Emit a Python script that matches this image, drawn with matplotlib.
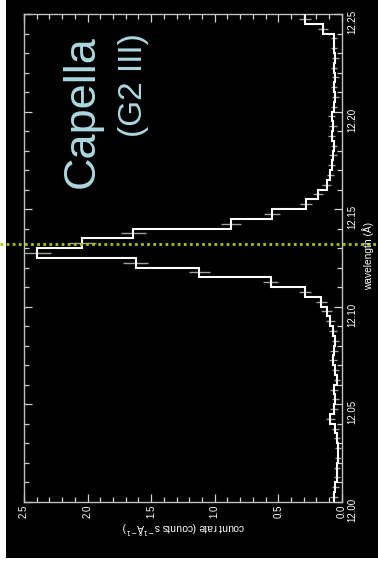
import matplotlib
matplotlib.use("Agg")
import matplotlib.pyplot as plt
import numpy as np
from matplotlib.patches import Rectangle
from matplotlib.ticker import MultipleLocator
import matplotlib.transforms as mtransforms

plt.rcParams['font.family'] = ['Liberation Sans', 'DejaVu Sans']

# Spectrum: count rate per 0.005 A bin, from 12.000 A upward
bin_start = 12.000
bin_width = 0.005
count_rate = [0.06, 0.05, 0.04, 0.04, 0.03, 0.03, 0.04, 0.05, 0.09, 0.06,
              0.05, 0.06, 0.04, 0.05, 0.07, 0.06, 0.05, 0.07, 0.09, 0.12,
              0.16, 0.29, 0.56, 1.12, 1.62, 2.40, 2.04, 1.64, 0.87, 0.55,
              0.28, 0.19, 0.12, 0.09, 0.08, 0.07, 0.06, 0.08, 0.07, 0.08,
              0.06, 0.05, 0.06, 0.05, 0.06, 0.05, 0.06, 0.06, 0.15, 0.29]
count_err = [0.030, 0.030, 0.025, 0.025, 0.020, 0.020, 0.025, 0.025, 0.035, 0.030,
             0.025, 0.030, 0.025, 0.025, 0.030, 0.030, 0.025, 0.030, 0.035, 0.040,
             0.045, 0.050, 0.060, 0.085, 0.098, 0.110, 0.105, 0.098, 0.079, 0.063,
             0.048, 0.040, 0.035, 0.030, 0.030, 0.030, 0.025, 0.030, 0.030, 0.030,
             0.025, 0.025, 0.025, 0.025, 0.025, 0.025, 0.025, 0.025, 0.040, 0.050]
line_wavelength = 12.132

count_ticks = [0.0, 0.5, 1.0, 1.5, 2.0, 2.5]
wave_ticks = [12.00, 12.05, 12.10, 12.15, 12.20, 12.25]

W, H = 378, 570
fig = plt.figure(figsize=(W / 100, H / 100), dpi=100)
fig.patch.set_facecolor('white')
fig.add_artist(Rectangle((6 / W, 12 / H), 1 - 6 / W, 1 - 12 / H,
                         transform=fig.transFigure, facecolor='black',
                         edgecolor='none', zorder=-10))

ax = fig.add_axes([24 / W, (H - 501.7) / H, 317.8 / W, 487.7 / H])
ax.set_facecolor('black')

edges = bin_start + bin_width * np.arange(len(count_rate) + 1)
centers = edges[:-1] + bin_width / 2
ax.errorbar(count_rate, centers, xerr=count_err, fmt='none',
            ecolor='#a0a0a0', elinewidth=1.0, capsize=0, zorder=2)
ax.stairs(count_rate, edges, orientation='horizontal', baseline=None,
          color='white', lw=1.5, zorder=3)

ax.set_xlim(2.5, 0.0)
ax.set_ylim(12.0, 12.25)

ax.set_xticks(count_ticks)
ax.set_xticklabels([f"{v:.1f}" for v in count_ticks])
ax.xaxis.set_minor_locator(MultipleLocator(0.1))
ax.set_yticks(wave_ticks)
ax.set_yticklabels([f"{v:.2f}" for v in wave_ticks])
ax.yaxis.set_minor_locator(MultipleLocator(0.01))

ax.tick_params(which='both', direction='in', top=True, right=True,
               colors='#d0d0d0', labelcolor='white', labelsize=7, width=0.9)
ax.tick_params(which='major', length=6)
ax.tick_params(which='minor', length=3.5)
ax.tick_params(axis='x', labelrotation=90, pad=2)
ax.tick_params(axis='y', labelleft=False, labelright=True, labelrotation=90, pad=4)
for sp in ax.spines.values():
    sp.set_color('#c0c0c0')
    sp.set_linewidth(1.0)

fig.text(183 / W, 1 - 528 / H, "count rate (counts s$^{-1}$Å$^{-1}$)",
         rotation=180, ha='center', va='center', color='white', fontsize=7.4)
fig.text(368 / W, 1 - 256 / H, "wavelength (Å)",
         rotation=90, ha='center', va='center', color='white', fontsize=7.3)

fig.text(94 / W, 1 - 35 / H, "Capella", rotation=90, rotation_mode='anchor',
         ha='right', va='baseline', color='#acd8e0', fontsize=32.5)
fig.text(142 / W, 1 - 33 / H, "(G2 III)", rotation=90, rotation_mode='anchor',
         ha='right', va='baseline', color='#acd8e0', fontsize=24)

# Ne X Ly-alpha rest wavelength marker across the full width
blend = mtransforms.blended_transform_factory(fig.transFigure, ax.transData)
ax.plot([0, 1], [line_wavelength, line_wavelength], transform=blend,
        color='#a0c800', lw=2.0, ls=(0, (1, 1.2)), clip_on=False, zorder=4)

fig.savefig("out.png", dpi=100, facecolor=fig.get_facecolor())
